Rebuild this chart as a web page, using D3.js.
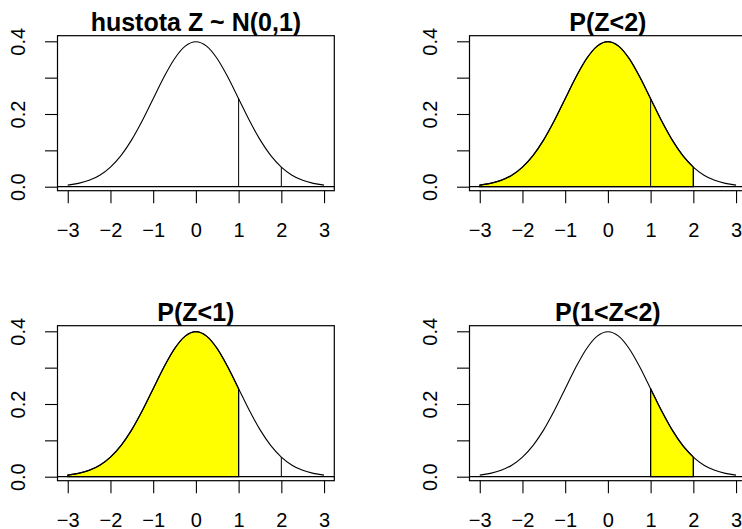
<!DOCTYPE html>
<html>
<head>
<meta charset="utf-8">
<script src="https://cdn.jsdelivr.net/npm/d3@7"></script>
<style>
  body { margin: 0; background: #fff; }
  svg { display: block; }
  text { font-family: "Liberation Sans", Arial, sans-serif; }
</style>
</head>
<body>
<svg id="chart" width="742" height="529"></svg>
<script>
// density of N(0,1) at steps of 0.25
const zValues = [-3, -2.75, -2.5, -2.25, -2, -1.75, -1.5, -1.25, -1, -0.75, -0.5, -0.25,
  0, 0.25, 0.5, 0.75, 1, 1.25, 1.5, 1.75, 2, 2.25, 2.5, 2.75, 3];
const density = [0.0044, 0.0091, 0.0175, 0.0317, 0.0540, 0.0863, 0.1295, 0.1826, 0.2420, 0.3011, 0.3521, 0.3867,
  0.3989, 0.3867, 0.3521, 0.3011, 0.2420, 0.1826, 0.1295, 0.0863, 0.0540, 0.0317, 0.0175, 0.0091, 0.0044];

const panelTitles = ['hustota Z ~ N(0,1)', 'P(Z<2)', 'P(Z<1)', 'P(1<Z<2)'];
const shadeFrom = [null, -3, -3, 1];
const shadeTo = [null, 2, 1, 2];
const markLines = [1, 2];

const xTicks = [-3, -2, -1, 0, 1, 2, 3];
const yTicks = [0, 0.1, 0.2, 0.3, 0.4];
const yLabels = [0, 0.2, 0.4];

// layout
const panelW = 412, panelH = 290;
const plot = { left: 57.5, right: 334.3, top: 35.7, bottom: 190.7 };
const tickLen = 12.5;
const labelSize = '20px';

const svg = d3.select('#chart');
const points = zValues.map((z, i) => ({ z, d: density[i] }));
const densityAt = z => points.find(p => p.z === z).d;

const x = d3.scaleLinear().domain([-3.24, 3.24]).range([plot.left, plot.right]);
const y = d3.scaleLinear().domain([-0.011, 0.4154]).range([plot.bottom, plot.top]);

const line = d3.line().x(p => x(p.z)).y(p => y(p.d)).curve(d3.curveMonotoneX);
const area = d3.area().x(p => x(p.z)).y0(y(0)).y1(p => y(p.d)).curve(d3.curveMonotoneX);

panelTitles.forEach((title, i) => {
  const g = svg.append('g')
    .attr('transform', `translate(${(i % 2) * panelW}, ${Math.floor(i / 2) * panelH})`);

  // shaded probability
  if (shadeFrom[i] !== null) {
    const sub = points.filter(p => p.z >= shadeFrom[i] && p.z <= shadeTo[i]);
    g.append('path')
      .attr('d', area(sub) + 'Z')
      .attr('fill', '#ffff00')
      .attr('stroke', '#000')
      .attr('stroke-width', 1.2);
  }

  // density curve
  g.append('path')
    .attr('d', line(points))
    .attr('fill', 'none')
    .attr('stroke', '#000')
    .attr('stroke-width', 1.1);

  // vertical marks at z = 1, 2
  g.selectAll('.mark')
    .data(markLines)
    .enter()
    .append('line')
    .attr('x1', d => x(d)).attr('x2', d => x(d))
    .attr('y1', y(0)).attr('y2', d => y(densityAt(d)))
    .attr('stroke', '#000')
    .attr('stroke-width', 1);

  // abline h = 0
  g.append('line')
    .attr('x1', plot.left).attr('x2', plot.right)
    .attr('y1', y(0)).attr('y2', y(0))
    .attr('stroke', '#000')
    .attr('stroke-width', 1.2);

  // box
  g.append('rect')
    .attr('x', plot.left).attr('y', plot.top)
    .attr('width', plot.right - plot.left).attr('height', plot.bottom - plot.top)
    .attr('fill', 'none')
    .attr('stroke', '#000')
    .attr('stroke-width', 1.2);

  // x axis
  const xAxis = g.append('g')
    .attr('transform', `translate(0, ${plot.bottom})`)
    .call(d3.axisBottom(x).tickValues(xTicks).tickSize(tickLen).tickPadding(19.5).tickFormat(d3.format('d')));
  xAxis.select('.domain').remove();
  xAxis.selectAll('line').attr('stroke', '#000').attr('stroke-width', 1.1);
  xAxis.selectAll('text').attr('fill', '#000').style('font-size', labelSize);

  // y axis
  const yAxis = g.append('g')
    .attr('transform', `translate(${plot.left}, 0)`)
    .call(d3.axisLeft(y).tickValues(yTicks).tickSize(tickLen).tickFormat(d3.format('.1f')));
  yAxis.select('.domain').remove();
  yAxis.selectAll('line').attr('stroke', '#000').attr('stroke-width', 1.1);
  yAxis.selectAll('.tick')
    .filter(d => !yLabels.some(v => Math.abs(v - d) < 1e-9))
    .select('text').remove();
  yAxis.selectAll('text')
    .attr('x', null).attr('dy', null)
    .attr('transform', 'translate(-32.5, 0) rotate(-90)')
    .attr('text-anchor', 'middle')
    .attr('fill', '#000')
    .style('font-size', labelSize);

  // title
  g.append('text')
    .attr('x', (plot.left + plot.right) / 2)
    .attr('y', 30.5)
    .attr('text-anchor', 'middle')
    .style('font-size', '25px')
    .style('font-weight', 'bold')
    .text(title);
});
</script>
</body>
</html>
